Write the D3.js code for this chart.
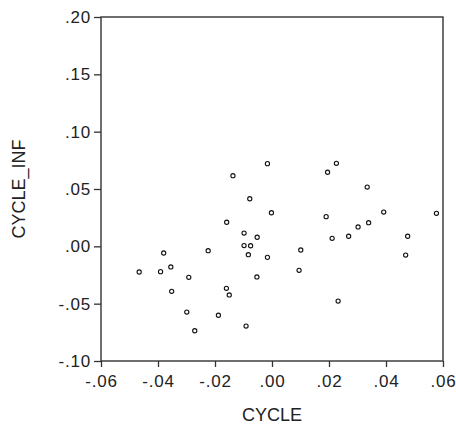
<!DOCTYPE html>
<html>
<head>
<meta charset="utf-8">
<script src="https://cdn.jsdelivr.net/npm/d3@7"></script>
<style>
  body { margin: 0; background: #fff; }
  svg text { font-family: "Liberation Sans", Arial, sans-serif; fill: #222; }
</style>
</head>
<body>
<div id="chart"></div>
<script>
// Data
let cycle = [-0.0016, -0.0137, 0.0195, -0.0078, -0.0002, 0.0190, -0.0159, -0.0098, -0.0052, -0.0098,
             -0.0075, 0.0101, 0.0226, 0.0334, 0.0392, 0.0577, 0.0339, 0.0302, 0.0269, 0.0211,
             0.0476, -0.0380, -0.0224, -0.0355, -0.0466, -0.0391, -0.0292, -0.0352, -0.0299, -0.0271,
             -0.0083, -0.0016, 0.0095, -0.0053, -0.0160, -0.0150, -0.0188, -0.0091, 0.0469, 0.0232];
let cycleInf = [0.0721, 0.0616, 0.0646, 0.0415, 0.0293, 0.0259, 0.0210, 0.0116, 0.0079, 0.0007,
                0.0005, -0.0032, 0.0724, 0.0517, 0.0299, 0.0288, 0.0206, 0.0169, 0.0088, 0.0070,
                0.0088, -0.0058, -0.0038, -0.0180, -0.0224, -0.0221, -0.0270, -0.0392, -0.0573, -0.0736,
                -0.0073, -0.0096, -0.0209, -0.0267, -0.0366, -0.0424, -0.0601, -0.0695, -0.0076, -0.0477];
let xTicks = [-0.06, -0.04, -0.02, 0, 0.02, 0.04, 0.06];
let yTicks = [-0.10, -0.05, 0, 0.05, 0.10, 0.15, 0.20];

let margin = { top: 17, right: 13, bottom: 66, left: 101 };
let svgWidth = 456, svgHeight = 427;
let chartWidth = svgWidth - margin.left - margin.right;
let chartHeight = svgHeight - margin.top - margin.bottom;

let svg = d3.select('#chart')
            .append('svg')
            .attr('width', svgWidth)
            .attr('height', svgHeight);

let chartGrp = svg.append('g')
            .attr('transform', `translate(${margin.left}, ${margin.top})`);

let xScale = d3.scaleLinear().domain([-0.06, 0.06]).range([0, chartWidth]);
let yScale = d3.scaleLinear().domain([-0.10, 0.20]).range([chartHeight, 0]);

// EViews style labels: no leading zero
let fmt = v => d3.format('.2f')(v).replace('0.', '.').replace('−', '-');

let xAxis = d3.axisBottom(xScale).tickValues(xTicks).tickSize(6).tickPadding(8).tickFormat(fmt);
let yAxis = d3.axisLeft(yScale).tickValues(yTicks).tickSize(7).tickPadding(3).tickFormat(fmt);

chartGrp.append('g')
    .attr('transform', `translate(0, ${chartHeight})`)
    .call(xAxis);
chartGrp.append('g')
    .call(yAxis);

chartGrp.selectAll('.domain').remove();
chartGrp.selectAll('.tick line').attr('stroke', '#333').attr('stroke-width', 1.3);
chartGrp.selectAll('.tick text')
    .attr('font-size', 17)
    .attr('letter-spacing', '0.8px')
    .attr('fill', '#222');

// Plot frame
chartGrp.append('rect')
    .attr('x', 0).attr('y', 0)
    .attr('width', chartWidth).attr('height', chartHeight)
    .attr('fill', 'none')
    .attr('stroke', '#333')
    .attr('stroke-width', 1.4);

// Points
chartGrp.selectAll('circle')
    .data(d3.range(cycle.length))
    .enter()
    .append('circle')
    .attr('cx', i => xScale(cycle[i]))
    .attr('cy', i => yScale(cycleInf[i]))
    .attr('r', 2.1)
    .attr('fill', '#fff')
    .attr('stroke', '#111')
    .attr('stroke-width', 1.1);

// Axis titles
svg.append('text')
    .attr('x', margin.left + chartWidth / 2)
    .attr('y', 421)
    .attr('text-anchor', 'middle')
    .attr('font-size', 18)
    .text('CYCLE');

svg.append('text')
    .attr('transform', `translate(25, ${margin.top + chartHeight / 2}) rotate(-90)`)
    .attr('text-anchor', 'middle')
    .attr('font-size', 18)
    .text('CYCLE_INF');
</script>
</body>
</html>
